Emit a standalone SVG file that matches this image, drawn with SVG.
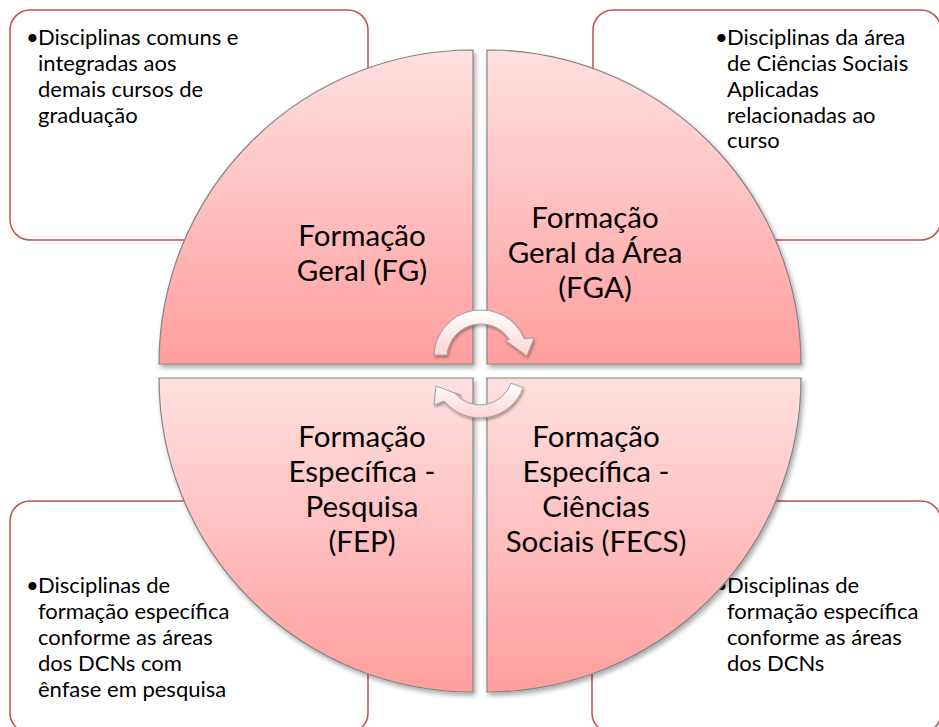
<svg xmlns="http://www.w3.org/2000/svg" width="939" height="727" viewBox="0 0 939 727">
  <defs>
    <linearGradient id="quadFill" x1="0" y1="0" x2="0" y2="1">
      <stop offset="0" stop-color="#ffe0e0"/>
      <stop offset="1" stop-color="#ff9e9e"/>
    </linearGradient>
    <linearGradient id="arrowFill" x1="0" y1="0" x2="0" y2="1">
      <stop offset="0" stop-color="#ffffff"/>
      <stop offset="1" stop-color="#ffd3d3"/>
    </linearGradient>
    <filter id="shadow" x="-10%" y="-10%" width="130%" height="130%">
      <feDropShadow dx="2" dy="3" stdDeviation="2.5" flood-color="#000" flood-opacity="0.35"/>
    </filter>
    <filter id="arrowShadow" x="-20%" y="-20%" width="150%" height="160%">
      <feDropShadow dx="1" dy="2" stdDeviation="1.5" flood-color="#000" flood-opacity="0.35"/>
    </filter>
  </defs>
  <style>
    .box { fill: #ffffff; stroke: #c0504d; stroke-width: 1.5; }
    .quad { fill: url(#quadFill); stroke: #858585; stroke-width: 1.2; filter: url(#shadow); }
    .arrow { fill: url(#arrowFill); stroke: #a0a0a0; stroke-width: 1; filter: url(#arrowShadow); }
    .btxt { font-family: "Lato", "Liberation Sans", sans-serif; font-size: 22px; fill: #000; }
    .qtxt { font-family: "Lato", "Liberation Sans", sans-serif; font-size: 29.5px; fill: #000; text-anchor: middle; }
  </style>

  <g id="box-fg">
    <rect class="box" x="10" y="10" width="358" height="230" rx="20" ry="20"/>
    <text class="btxt"><tspan x="26" y="45">•</tspan><tspan x="38" y="45">Disciplinas comuns e</tspan><tspan x="38" y="71">integradas aos</tspan><tspan x="38" y="97">demais cursos de</tspan><tspan x="38" y="123">graduação</tspan></text>
  </g>
  <g id="box-fga">
    <rect class="box" x="593" y="10" width="348" height="230" rx="20" ry="20"/>
    <text class="btxt"><tspan x="715" y="45">•</tspan><tspan x="727" y="45">Disciplinas da área</tspan><tspan x="727" y="71">de Ciências Sociais</tspan><tspan x="727" y="97">Aplicadas</tspan><tspan x="727" y="123">relacionadas ao</tspan><tspan x="727" y="148">curso</tspan></text>
  </g>
  <g id="box-fep">
    <rect class="box" x="10" y="501" width="358" height="232" rx="20" ry="20"/>
    <text class="btxt"><tspan x="26" y="593">•</tspan><tspan x="38" y="593">Disciplinas de</tspan><tspan x="38" y="619">formação específica</tspan><tspan x="38" y="645">conforme as áreas</tspan><tspan x="38" y="671">dos DCNs com</tspan><tspan x="38" y="697">ênfase em pesquisa</tspan></text>
  </g>
  <g id="box-fecs">
    <rect class="box" x="592" y="501" width="349" height="232" rx="20" ry="20"/>
    <text class="btxt"><tspan x="715" y="593">•</tspan><tspan x="727" y="593">Disciplinas de</tspan><tspan x="727" y="619">formação específica</tspan><tspan x="727" y="645">conforme as áreas</tspan><tspan x="727" y="671">dos DCNs</tspan></text>
  </g>

  <g id="quad-fg">
    <path class="quad" d="M473 364 L159 364 A314 314 0 0 1 473 50 Z"/>
    <text class="qtxt"><tspan x="362" y="246">Formação</tspan><tspan x="362" y="281">Geral (FG)</tspan></text>
  </g>
  <g id="quad-fga">
    <path class="quad" d="M487 364 L487 50 A314 314 0 0 1 801 364 Z"/>
    <text class="qtxt"><tspan x="595" y="228">Formação</tspan><tspan x="595" y="263">Geral da Área</tspan><tspan x="595" y="298">(FGA)</tspan></text>
  </g>
  <g id="quad-fep">
    <path class="quad" d="M473 378 L473 692 A314 314 0 0 1 159 378 Z"/>
    <text class="qtxt"><tspan x="362" y="447">Formação</tspan><tspan x="362" y="482">Específica -</tspan><tspan x="362" y="517">Pesquisa</tspan><tspan x="362" y="552">(FEP)</tspan></text>
  </g>
  <g id="quad-fecs">
    <path class="quad" d="M487 378 L801 378 A314 314 0 0 1 487 692 Z"/>
    <text class="qtxt"><tspan x="596" y="447">Formação</tspan><tspan x="596" y="482">Específica -</tspan><tspan x="596" y="517">Ciências</tspan><tspan x="596" y="552">Sociais (FECS)</tspan></text>
  </g>

  <g id="connectors">
    <path class="arrow" d="M434 355 A47 47 0 0 1 524.2 338.5 L534 338 L527 356 L505 340 L509.5 339.6 A34 34 0 0 0 447 355 Z"/>
    <path class="arrow" d="M523.2 387.7 A46 46 0 0 1 444.4 401.1 L434 405 L436 386 L461.5 395.6 L454.7 393.2 A33 33 0 0 0 511 383.3 Z"/>
  </g>
</svg>
